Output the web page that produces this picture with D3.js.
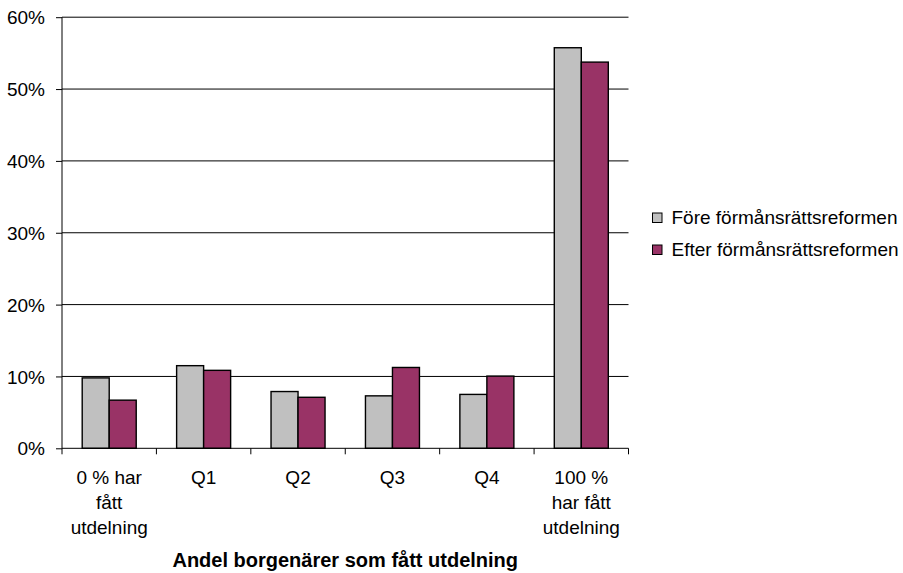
<!DOCTYPE html>
<html>
<head>
<meta charset="utf-8">
<script src="https://cdn.jsdelivr.net/npm/d3@7/dist/d3.min.js"></script>
<style>
  html, body { margin: 0; padding: 0; background: #fff; }
  svg text { font-family: "Liberation Sans", Arial, sans-serif; fill: #000; }
</style>
</head>
<body>
<svg id="chart" width="903" height="573"></svg>
<script>
// Share of creditors by category, before and after the priority-rights reform
const categories = [
  ["0 % har", "fått", "utdelning"],
  ["Q1"],
  ["Q2"],
  ["Q3"],
  ["Q4"],
  ["100 %", "har fått", "utdelning"]
];
const seriesNames = ["Före förmånsrättsreformen", "Efter förmånsrättsreformen"];
const fore  = [0.098, 0.115, 0.079, 0.073, 0.075, 0.5575];
const efter = [0.067, 0.1085, 0.071, 0.1125, 0.1005, 0.5375];
const yTicks = [0, 0.1, 0.2, 0.3, 0.4, 0.5, 0.6];
const axisTitle = "Andel borgenärer som fått utdelning";
const colors = ["#C0C0C0", "#993366"];

const svg = d3.select("#chart");
const plotLeft = 62, plotRight = 628.5, plotTop = 17.2, plotBottom = 448.3;

const x = d3.scaleBand()
  .domain(d3.range(categories.length))
  .range([plotLeft, plotRight])
  .paddingInner(0.428)
  .paddingOuter(0.214);
const xs = d3.scaleBand().domain([0, 1]).range([0, x.bandwidth()]);
const y = d3.scaleLinear().domain([0, 0.6]).range([plotBottom, plotTop]);

// horizontal gridlines
svg.append("g")
  .selectAll("line")
  .data(yTicks.filter(d => d > 0))
  .join("line")
  .attr("x1", plotLeft).attr("x2", plotRight)
  .attr("y1", d => y(d)).attr("y2", d => y(d))
  .attr("stroke", "#000").attr("stroke-width", 1);

// bars
const series = [fore, efter];
series.forEach((vals, si) => {
  svg.append("g")
    .selectAll("rect")
    .data(vals)
    .join("rect")
    .attr("x", (d, i) => x(i) + xs(si))
    .attr("y", d => y(d))
    .attr("width", xs.bandwidth())
    .attr("height", d => plotBottom - y(d))
    .attr("fill", colors[si])
    .attr("stroke", "#000")
    .attr("stroke-width", 1.4);
});

// y axis
const yAxis = d3.axisLeft(y).tickValues(yTicks).tickFormat(d3.format(".0%"))
  .tickSize(6).tickPadding(0);
const gy = svg.append("g").attr("transform", `translate(${plotLeft},0)`).call(yAxis);
gy.select(".domain").attr("stroke", "#000").attr("d", `M0,${plotTop}V${plotBottom}`);
gy.selectAll(".tick line").attr("stroke", "#000");
gy.selectAll(".tick text")
  .attr("x", -17)
  .attr("dy", "0.35em")
  .style("font-size", "19px")
  .style("font-family", "'Liberation Sans', Arial, sans-serif")
  .attr("fill", "#000");

// x axis baseline and category boundary ticks
svg.append("line")
  .attr("x1", plotLeft).attr("x2", plotRight)
  .attr("y1", plotBottom).attr("y2", plotBottom)
  .attr("stroke", "#000");
const bounds = d3.range(categories.length + 1).map(i => plotLeft + i * x.step());
svg.append("g").selectAll("line").data(bounds).join("line")
  .attr("x1", d => d).attr("x2", d => d)
  .attr("y1", plotBottom).attr("y2", plotBottom + 6)
  .attr("stroke", "#000");

// category labels
const lbl = svg.append("g").selectAll("text").data(categories).join("text")
  .attr("text-anchor", "middle")
  .style("font-size", "19px");
lbl.selectAll("tspan").data((d, i) => d.map(t => ({ t, i }))).join("tspan")
  .attr("x", d => x(d.i) + x.bandwidth() / 2)
  .attr("y", (d, j) => 484 + j * 25)
  .text(d => d.t);

// axis title
svg.append("text")
  .attr("x", (plotLeft + plotRight) / 2)
  .attr("y", 566.5)
  .attr("text-anchor", "middle")
  .style("font-size", "20px")
  .style("font-weight", "bold")
  .text(axisTitle);

// legend
const legend = svg.append("g").selectAll("g").data(seriesNames).join("g")
  .attr("transform", (d, i) => `translate(652.5,${213 + i * 32})`);
legend.append("rect")
  .attr("width", 9.5).attr("height", 9.5)
  .attr("fill", (d, i) => colors[i])
  .attr("stroke", "#000");
legend.append("text")
  .attr("x", 19)
  .attr("y", 10.5)
  .style("font-size", "19px")
  .text(d => d);
</script>
</body>
</html>
